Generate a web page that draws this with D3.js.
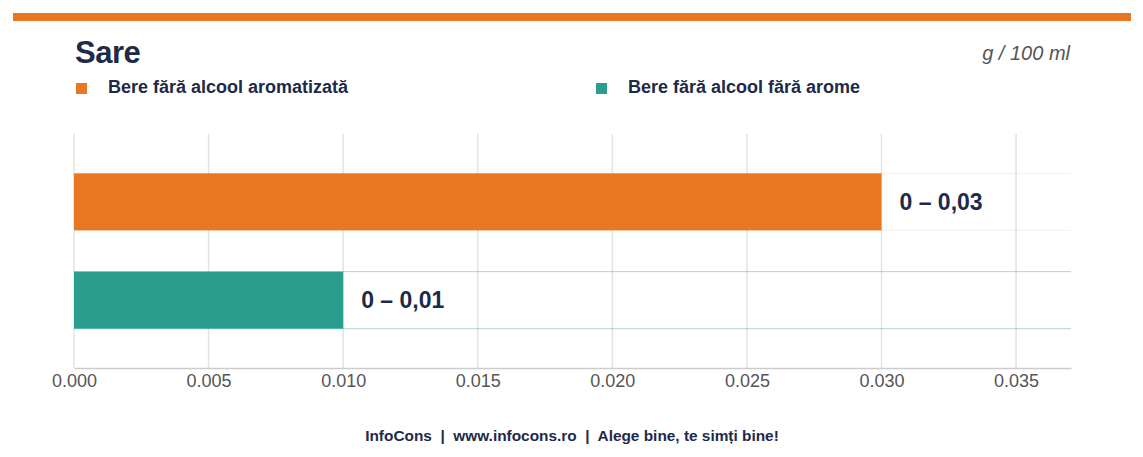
<!DOCTYPE html>
<html>
<head>
<meta charset="utf-8">
<script src="https://cdn.jsdelivr.net/npm/d3@7"></script>
<style>
  body { margin: 0; background: #fff; font-family: "Liberation Sans", Arial, sans-serif; }
  svg text { font-family: "Liberation Sans", Arial, sans-serif; }
</style>
</head>
<body>
<div id="chart"></div>
<script>
// chart values
var categories = ["Bere fără alcool aromatizată", "Bere fără alcool fără arome"];
var minValues = [0, 0];
var maxValues = [0.03, 0.01];
var valueLabels = ["0 – 0,03", "0 – 0,01"];
var colors = ["#e87722", "#2a9d8f"];
var xTicks = [0, 0.005, 0.01, 0.015, 0.02, 0.025, 0.03, 0.035];

var svgWidth = 1143;
var svgHeight = 457;
var margin = { top: 134, right: 72, bottom: 89, left: 74 };
var width = svgWidth - margin.left - margin.right;
var height = svgHeight - margin.top - margin.bottom;
var dark = "#1e2a4a";

var svg = d3.select("#chart")
  .append("svg")
  .attr("width", svgWidth)
  .attr("height", svgHeight);

// top accent stripe
svg.append("rect")
  .attr("x", 13).attr("y", 13)
  .attr("width", 1118).attr("height", 8)
  .attr("fill", "#e87722");

svg.append("text")
  .attr("x", 75).attr("y", 63)
  .attr("font-size", 31).attr("font-weight", "bold")
  .attr("fill", dark)
  .attr("letter-spacing", -0.5)
  .text("Sare");

svg.append("text")
  .attr("x", 1070).attr("y", 60)
  .attr("text-anchor", "end")
  .attr("font-size", 20).attr("font-style", "italic")
  .attr("fill", "#555")
  .text("g / 100 ml");

// legend
var legendX = [76, 596];
var legend = svg.selectAll("g.legend")
  .data(categories)
  .enter()
  .append("g")
  .attr("class", "legend")
  .attr("transform", (d, i) => `translate(${legendX[i]}, 83)`);

legend.append("rect")
  .attr("width", 11).attr("height", 11)
  .attr("fill", (d, i) => colors[i]);

legend.append("text")
  .attr("x", 32).attr("y", 10)
  .attr("font-size", 18).attr("font-weight", "bold")
  .attr("fill", dark)
  .text(d => d);

var chartGroup = svg.append("g")
  .attr("transform", `translate(${margin.left}, ${margin.top})`);

var xLinearScale = d3.scaleLinear()
  .domain([0, 0.03704])
  .range([0, width]);

var yBandScale = d3.scaleBand()
  .domain(categories)
  .range([0, height])
  .paddingInner(0.42)
  .paddingOuter(0.4);

// vertical gridlines
chartGroup.append("g")
  .selectAll("line")
  .data(xTicks)
  .enter()
  .append("line")
  .attr("x1", d => xLinearScale(d))
  .attr("x2", d => xLinearScale(d))
  .attr("y1", 0)
  .attr("y2", height)
  .attr("stroke", "#e3e3e3")
  .attr("stroke-width", 1.5);

var rows = chartGroup.selectAll("g.row")
  .data(categories)
  .enter()
  .append("g")
  .attr("class", "row");

// faint top / bottom edges of each band across the full width
[0, 1].forEach(function(edge) {
  rows.append("line")
    .attr("x1", 0)
    .attr("x2", width)
    .attr("y1", d => yBandScale(d) + edge * yBandScale.bandwidth())
    .attr("y2", d => yBandScale(d) + edge * yBandScale.bandwidth())
    .attr("stroke", (d, i) => colors[i])
    .attr("stroke-opacity", (d, i) => i === 0 ? 0.12 : 0.4)
    .attr("stroke-width", 1);
});

rows.append("rect")
  .attr("x", (d, i) => xLinearScale(minValues[i]))
  .attr("y", d => yBandScale(d))
  .attr("width", (d, i) => xLinearScale(maxValues[i]) - xLinearScale(minValues[i]))
  .attr("height", yBandScale.bandwidth())
  .attr("fill", (d, i) => colors[i]);

rows.append("text")
  .attr("x", (d, i) => xLinearScale(maxValues[i]) + 18)
  .attr("y", d => yBandScale(d) + yBandScale.bandwidth() / 2)
  .attr("dy", "0.36em")
  .attr("font-size", 23).attr("font-weight", "bold")
  .attr("fill", dark)
  .text((d, i) => valueLabels[i]);

// x axis
var bottomAxis = d3.axisBottom(xLinearScale)
  .tickValues(xTicks)
  .tickSize(0)
  .tickPadding(6)
  .tickFormat(d3.format(".3f"));

var xAxis = chartGroup.append("g")
  .attr("transform", `translate(0, ${height})`)
  .call(bottomAxis);

xAxis.select(".domain")
  .attr("stroke", "#ccc")
  .attr("stroke-width", 1.5);

xAxis.selectAll("text")
  .attr("font-size", 18)
  .attr("fill", "#555")
  .attr("font-family", "Liberation Sans, Arial, sans-serif");

// footer
svg.append("text")
  .attr("x", 572).attr("y", 441)
  .attr("text-anchor", "middle")
  .attr("font-size", 15.4).attr("font-weight", "bold")
  .attr("fill", dark)
  .attr("xml:space", "preserve")
  .text("InfoCons  |  www.infocons.ro  |  Alege bine, te simți bine!");
</script>
</body>
</html>
